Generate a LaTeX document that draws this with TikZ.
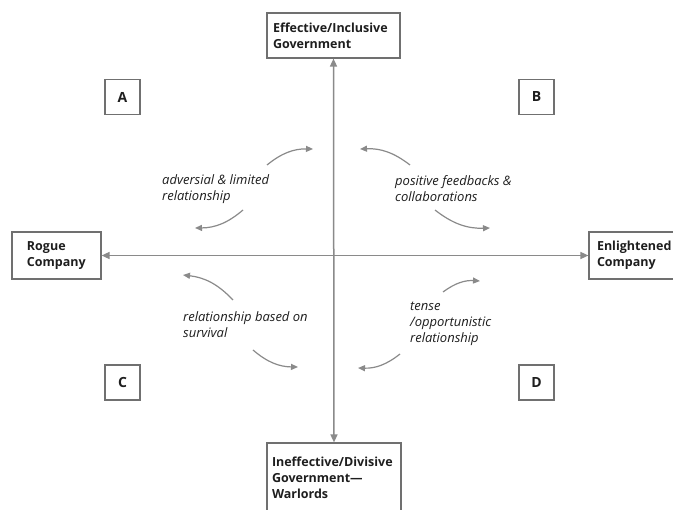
\documentclass[tikz,border=0pt]{standalone}
\usepackage{fontspec}
\setmainfont{Open Sans}
\usetikzlibrary{arrows.meta}
\definecolor{axisgray}{HTML}{8A8A8A}
\definecolor{boxgray}{HTML}{707070}
\definecolor{txt}{HTML}{1E1E1E}
\tikzset{
  boxnode/.style={draw=boxgray, line width=1.2pt, rectangle, inner sep=0pt, font=\bfseries\fontsize{12.5}{16}\selectfont, text=txt},
  lettnode/.style={boxnode, minimum width=35pt, minimum height=35pt, font=\bfseries\fontsize{14}{16}\selectfont},
  lbl/.style={font=\itshape\fontsize{13}{16}\selectfont, text=txt, align=left, anchor=west, inner sep=0pt},
  axisarrow/.style={draw=axisgray, line width=1.5pt, {Triangle[length=8pt,width=7pt]}-{Triangle[length=8pt,width=7pt]}},
  curvearrow/.style={draw=axisgray, line width=1.2pt, -{Triangle[length=7pt,width=6pt]}}
}
\begin{document}
\begin{tikzpicture}[x=1pt,y=1pt]
\clip (0,0) rectangle (673,-510);
\fill[white] (0,0) rectangle (673,-510);
% main boxes
\node[boxnode, minimum width=133pt, minimum height=45pt, text width=121pt, align=left] (top) at (333.5,-35.5) {Effective/Inclusive\\Government};
\node[boxnode, minimum width=134pt, minimum height=70pt, text width=124pt, align=left] (bot) at (334,-478) {Ineffective/Divisive\\Government—\\Warlords};
\node[boxnode, minimum width=89pt, minimum height=47pt, text width=59pt, align=left] (left) at (56.5,-255.5) {Rogue\\Company};
\node[boxnode, minimum width=95pt, minimum height=47pt, text width=79pt, align=left] (right) at (636.5,-255.5) {Enlightened\\Company};
% letter boxes
\node[lettnode] (A) at (122.5,-97) {A};
\node[lettnode] (B) at (536.5,-97) {B};
\node[lettnode] (C) at (122.5,-382.5) {C};
\node[lettnode] (D) at (536.5,-382.5) {D};
% axes
\draw[axisarrow] (left.east) -- (right.west);
\draw[axisarrow] (top.south) -- (bot.north);
% labels
\node[lbl] (lA) at (162,-189) {adversial \& limited\\relationship};
\node[lbl] (lB) at (395,-189) {positive feedbacks \&\\collaborations};
\node[lbl] (lC) at (183,-325) {relationship based on\\survival};
\node[lbl] (lD) at (410,-324) {tense\\/opportunistic\\relationship};
% curved arrows
\coordinate (a1s) at (267,-165); \coordinate (a1e) at (313,-149);
\coordinate (a2s) at (243,-210); \coordinate (a2e) at (195,-228);
\coordinate (b1s) at (410,-165); \coordinate (b1e) at (360,-149);
\coordinate (b2s) at (435,-210); \coordinate (b2e) at (490,-228);
\coordinate (c1s) at (233,-300); \coordinate (c1e) at (183,-275);
\coordinate (c2s) at (253,-350); \coordinate (c2e) at (298,-367);
\coordinate (d1s) at (443,-292); \coordinate (d1e) at (480,-281);
\coordinate (d2s) at (400,-354); \coordinate (d2e) at (358,-368);
\draw[curvearrow] (a1s) to[bend left=20] (a1e);
\draw[curvearrow] (a2s) to[bend left=20] (a2e);
\draw[curvearrow] (b1s) to[bend right=20] (b1e);
\draw[curvearrow] (b2s) to[bend right=20] (b2e);
\draw[curvearrow] (c1s) to[bend right=20] (c1e);
\draw[curvearrow] (c2s) to[bend right=20] (c2e);
\draw[curvearrow] (d1s) to[bend left=20] (d1e);
\draw[curvearrow] (d2s) to[bend left=20] (d2e);
\end{tikzpicture}
\end{document}
